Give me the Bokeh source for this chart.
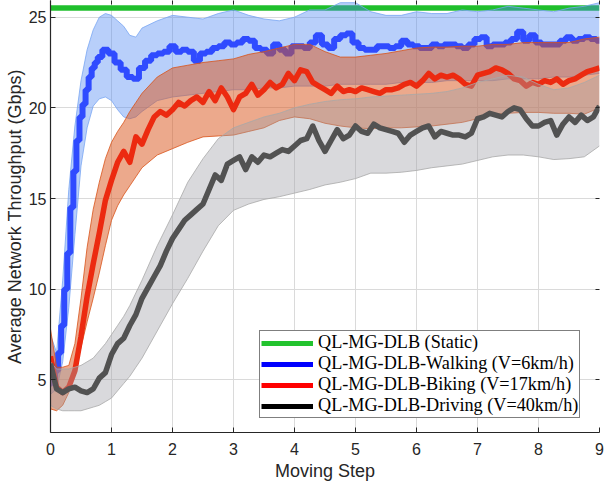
from bokeh.plotting import figure
from bokeh.models import (Legend, LegendItem, FixedTicker, LinearAxis, Range1d,
                          CustomJSTickFormatter)
from bokeh.embed import file_html
from bokeh.resources import INLINE

# moving steps of the mean curves (0 .. 9, every 0.1)
moving_step = [round(i * 0.1, 1) for i in range(91)]

# the walking curve is read more finely on its steep start
walking_step = [0, 0.05, 0.1, 0.15, 0.2, 0.25, 0.3, 0.35, 0.4, 0.45, 0.5,
                0.55, 0.6, 0.65, 0.7, 0.75, 0.8] + moving_step[9:]

# mean throughput (Gbps)
static_level = [25.5, 25.5]
static_step = [0, 9]

walking_mean = [
    4.8, 5.0, 5.5, 6.5, 8.0, 10.0, 12.0, 14.5, 16.5, 18.2, 19.5,
    20.2, 21.0, 21.7, 22.2, 22.5, 22.8,
    23.2,
    23.0, 22.5, 22.1, 21.7, 21.6, 22.2, 22.6, 22.9, 23.0, 23.1,
    23.4, 23.1, 23.2, 23.1, 22.6, 23.0, 23.1, 23.3, 23.4, 23.6,
    23.5, 23.6, 23.8, 23.7, 23.3, 23.2, 23.0, 23.5, 23.2, 23.0,
    23.4, 23.4, 23.3, 23.6, 24.0, 23.5, 23.3, 23.8, 24.0, 24.1,
    23.6, 23.3, 23.2, 23.2, 23.4, 23.4, 23.3, 23.4, 23.7, 23.5,
    23.4, 23.3, 23.3, 23.5, 23.4, 23.5, 23.5, 23.4, 23.3, 23.5,
    23.8, 23.9, 23.4, 23.5, 23.5, 23.6, 23.8, 24.2, 23.7, 24.0,
    23.6, 23.5, 23.5, 23.5, 23.7, 23.9, 23.7, 23.8, 23.9, 23.8,
    23.7,
]

biking_mean = [
    6.3, 4.6, 4.3, 4.6, 5.5, 7.4, 9.6, 11.4, 13.1, 14.9,
    16.0, 17.0, 17.6, 17.0, 18.4, 18.0, 18.8, 19.5, 19.8, 19.6,
    19.9, 20.3, 20.1, 20.4, 20.6, 20.3, 20.9, 20.4, 21.1, 20.6,
    19.9, 20.6, 20.8, 21.3, 20.7, 21.0, 21.4, 21.1, 21.3, 21.9,
    21.5, 22.1, 22.0, 21.4, 21.2, 21.0, 20.8, 21.2, 20.9, 21.0,
    20.9, 21.1, 21.0, 20.9, 20.8, 21.0, 21.0, 21.1, 21.3, 21.4,
    21.2, 21.5, 21.9, 21.6, 21.8, 21.7, 21.8, 21.6, 21.3, 21.2,
    21.8, 21.9, 22.0, 22.2, 22.1, 21.9, 21.6, 21.5, 21.2, 21.4,
    21.3, 21.5, 21.4, 21.6, 21.3, 21.5, 21.6, 21.8, 22.0, 22.1,
    22.2,
]

driving_mean = [
    5.9, 4.5, 4.3, 4.5, 4.6, 4.4, 4.3, 4.5, 5.1, 5.4,
    6.4, 7.0, 7.3, 8.0, 8.6, 9.5, 10.1, 10.7, 11.3, 12.1,
    12.8, 13.3, 13.8, 14.1, 14.4, 14.7, 15.5, 16.3, 16.0, 16.9,
    17.1, 17.3, 16.6, 17.3, 17.0, 17.4, 17.3, 17.5, 17.7, 17.6,
    17.9, 18.2, 18.3, 19.0, 18.2, 17.6, 18.2, 18.8, 18.3, 18.5,
    19.0, 18.7, 18.6, 19.1, 18.9, 18.8, 18.7, 18.6, 18.1, 18.5,
    18.7, 18.9, 19.0, 18.4, 18.7, 18.6, 18.5, 18.5, 18.4, 18.6,
    19.4, 19.5, 19.7, 19.6, 19.5, 19.8, 20.0, 19.9, 19.4, 19.0,
    19.0, 19.2, 19.3, 18.5, 19.1, 19.5, 19.2, 19.6, 19.3, 19.5,
    20.1,
]

# spread bands
band_step = [0, 0.1, 0.2, 0.3, 0.4, 0.5, 0.6, 0.7, 0.8, 0.9, 1.0, 1.1, 1.2,
             1.3, 1.4, 1.5, 1.75, 2.0, 2.25, 2.5, 2.75, 3.0, 3.25, 3.5, 3.75,
             4.0, 4.25, 4.5, 4.75, 5.0, 5.25, 5.5, 5.75, 6.0, 6.25, 6.5, 6.75,
             7.0, 7.25, 7.5, 7.75, 8.0, 8.25, 8.5, 8.75, 9.0]

walking_upper = [7.5, 6.5, 10.5, 15.5, 19.0, 21.5, 23.2, 24.3, 25.0, 25.2, 25.1,
                 24.8, 24.5, 24.0, 23.9, 24.4, 24.8, 25.1, 25.0, 24.9, 25.2,
                 25.4, 25.1, 24.9, 24.8, 25.0, 25.4, 25.4, 25.8, 25.8, 25.3,
                 25.1, 25.1, 25.3, 25.2, 25.2, 25.4, 25.3, 25.4, 25.6, 25.5,
                 25.4, 25.3, 25.5, 25.6, 25.8]
walking_lower = [4.2, 4.5, 6.0, 9.0, 13.0, 16.8, 18.9, 20.1, 20.5, 20.6, 20.4,
                 19.9, 19.5, 19.4, 19.5, 19.8, 20.4, 20.6, 20.7, 20.8, 20.9,
                 21.0, 21.0, 21.1, 21.1, 21.2, 21.2, 21.2, 21.3, 21.3, 21.3,
                 21.3, 21.4, 21.4, 21.4, 21.5, 21.5, 21.5, 21.5, 21.6, 21.6,
                 21.6, 21.7, 21.7, 21.8, 21.9]

biking_upper = [7.8, 5.7, 5.7, 5.8, 7.0, 9.5, 12.3, 14.4, 15.9, 17.2, 18.1,
                18.7, 19.2, 19.8, 20.3, 20.8, 21.7, 22.2, 22.35, 22.5, 22.6,
                22.7, 22.95, 23.1, 23.3, 23.5, 23.5, 23.1, 22.8, 22.8, 22.9,
                23.0, 23.15, 23.3, 23.35, 23.35, 23.4, 23.4, 23.5, 23.5, 23.6,
                23.6, 23.6, 23.6, 23.8, 23.9]
biking_lower = [3.4, 3.3, 3.6, 4.3, 5.4, 6.8, 8.2, 9.5, 10.9, 12.4, 13.8,
                14.6, 15.2, 15.7, 16.2, 16.7, 17.4, 17.75, 18.1, 18.4, 18.45,
                18.5, 18.7, 18.9, 19.3, 19.5, 19.4, 19.15, 19.0, 18.9, 18.85,
                18.9, 18.9, 18.95, 19.0, 19.1, 19.2, 19.4, 19.65, 19.7, 19.75,
                19.75, 19.7, 19.7, 19.65, 20.0]

driving_upper = [6.0, 5.6, 5.6, 5.6, 5.7, 5.8, 6.0, 6.2, 6.6, 7.0, 7.5,
                 8.0, 8.5, 9.1, 9.8, 10.5, 12.4, 14.1, 15.9, 17.2, 18.3,
                 18.9, 19.2, 19.5, 19.7, 20.0, 20.2, 20.35, 20.45, 20.5, 20.6,
                 20.65, 20.7, 20.75, 20.8, 20.9, 21.1, 21.4, 21.6, 21.8, 21.7,
                 21.3, 21.0, 21.1, 21.4, 21.8]
driving_lower = [3.6, 3.4, 3.3, 3.3, 3.3, 3.3, 3.4, 3.5, 3.6, 3.8, 4.0,
                 4.4, 4.8, 5.2, 5.7, 6.2, 7.7, 9.2, 10.6, 12.1, 13.5,
                 14.35, 14.7, 14.95, 15.1, 15.3, 15.5, 15.75, 15.9, 16.1, 16.4,
                 16.4, 16.45, 16.55, 16.7, 16.8, 16.9, 17.1, 17.3, 17.4, 17.4,
                 17.3, 17.15, 17.2, 17.3, 17.9]

legend_labels = ["QL-MG-DLB (Static)",
                 "QL-MG-DLB-Walking (V=6km/h)",
                 "QL-MG-DLB-Biking (V=17km/h)",
                 "QL-MG-DLB-Driving (V=40km/h)"]
x_ticks = [0, 1, 2, 3, 4, 5, 6, 7, 8, 9]
y_ticks = [5, 10, 15, 20, 25]

sans = "Liberation Sans"
ink = "#262626"

p = figure(width=604, height=486, output_backend="svg", toolbar_location=None,
           x_range=Range1d(0, 9), y_range=Range1d(2.1, 25.92),
           min_border_left=50, min_border_right=5, min_border_top=0,
           min_border_bottom=54)
p.title.visible = False
p.outline_line_color = None
p.background_fill_color = "white"

# static reference line
p.line(static_step, static_level, line_color="#1fbf2c", line_width=5.5)

# walking
p.varea(x=band_step, y1=walking_lower, y2=walking_upper,
        fill_color="#4d88f2", fill_alpha=0.4)
p.line(band_step, walking_upper, line_color="#78a6f2", line_width=0.8)
p.line(band_step, walking_lower, line_color="#78a6f2", line_width=0.8)
p.step(walking_step, walking_mean, mode="center", line_color="#2f4bff",
       line_width=6)

# biking
p.varea(x=band_step, y1=biking_lower, y2=biking_upper,
        fill_color="#d95319", fill_alpha=0.5)
p.line(band_step, biking_upper, line_color="#d95319", line_width=0.8)
p.line(band_step, biking_lower, line_color="#d95319", line_width=0.8)
p.line(moving_step, biking_mean, line_color="#ec2a10", line_width=5.5,
       line_join="round")

# driving
p.varea(x=band_step, y1=driving_lower, y2=driving_upper,
        fill_color="#a0a0a8", fill_alpha=0.4)
p.line(band_step, driving_upper, line_color="#a8a8a8", line_width=0.8)
p.line(band_step, driving_lower, line_color="#a8a8a8", line_width=0.8)
p.line(moving_step, driving_mean, line_color="#525252", line_width=5.5,
       line_join="round")

# legend uses pure colours (lines with no visible points)
legend_colors = ["#22c32e", "#0000ff", "#ff0000", "#000000"]
items = []
for lab, col in zip(legend_labels, legend_colors):
    r = p.line(static_step, [float("nan")] * 2, line_color=col, line_width=5)
    items.append(LegendItem(label=lab, renderers=[r]))

legend = Legend(items=items, location=(209, 14), margin=0,
                padding=1, spacing=0, label_height=20, glyph_height=20,
                glyph_width=52, label_standoff=5,
                label_text_font="Liberation Serif",
                label_text_font_size="18.2px", label_text_color="black",
                border_line_color="black", border_line_width=1,
                background_fill_color="white", background_fill_alpha=1)
p.add_layout(legend)

# axes
p.xaxis.ticker = FixedTicker(ticks=x_ticks)
p.yaxis.ticker = FixedTicker(ticks=y_ticks)
p.xaxis.axis_label = "Moving Step"
p.yaxis.axis_label = "Average Network Throughput (Gbps)"
for ax in [p.xaxis[0], p.yaxis[0]]:
    ax.axis_line_color = ink
    ax.axis_line_width = 1.2
    ax.major_tick_line_color = ink
    ax.major_tick_in = 5
    ax.major_tick_out = 0
    ax.minor_tick_line_color = None
    ax.major_label_text_font = sans
    ax.major_label_text_font_size = "16px"
    ax.major_label_text_color = ink
    ax.axis_label_text_font = sans
    ax.axis_label_text_font_size = "18px"
    ax.axis_label_text_font_style = "normal"
    ax.axis_label_text_color = ink
p.xaxis.major_label_standoff = 10
p.xaxis.axis_label_standoff = 3
p.yaxis.major_label_standoff = 4
p.yaxis.axis_label_standoff = 1

# top and right ticks (box), no labels
blank = CustomJSTickFormatter(code="return ''")
top = LinearAxis(ticker=FixedTicker(ticks=x_ticks), axis_line_color=None,
                 major_tick_in=4, major_tick_out=0, major_tick_line_color=ink,
                 minor_tick_line_color=None, formatter=blank,
                 major_label_standoff=0)
right = LinearAxis(ticker=FixedTicker(ticks=y_ticks), axis_line_color=None,
                   major_tick_in=4, major_tick_out=0, major_tick_line_color=ink,
                   minor_tick_line_color=None, formatter=blank,
                   major_label_standoff=0)
p.add_layout(top, "above")
p.add_layout(right, "right")

# grid
p.xgrid.grid_line_color = "#dadada"
p.ygrid.grid_line_color = "#dadada"
p.xgrid.ticker = FixedTicker(ticks=x_ticks)
p.ygrid.ticker = FixedTicker(ticks=y_ticks)

open("out.html", "w").write(file_html(p, INLINE))
